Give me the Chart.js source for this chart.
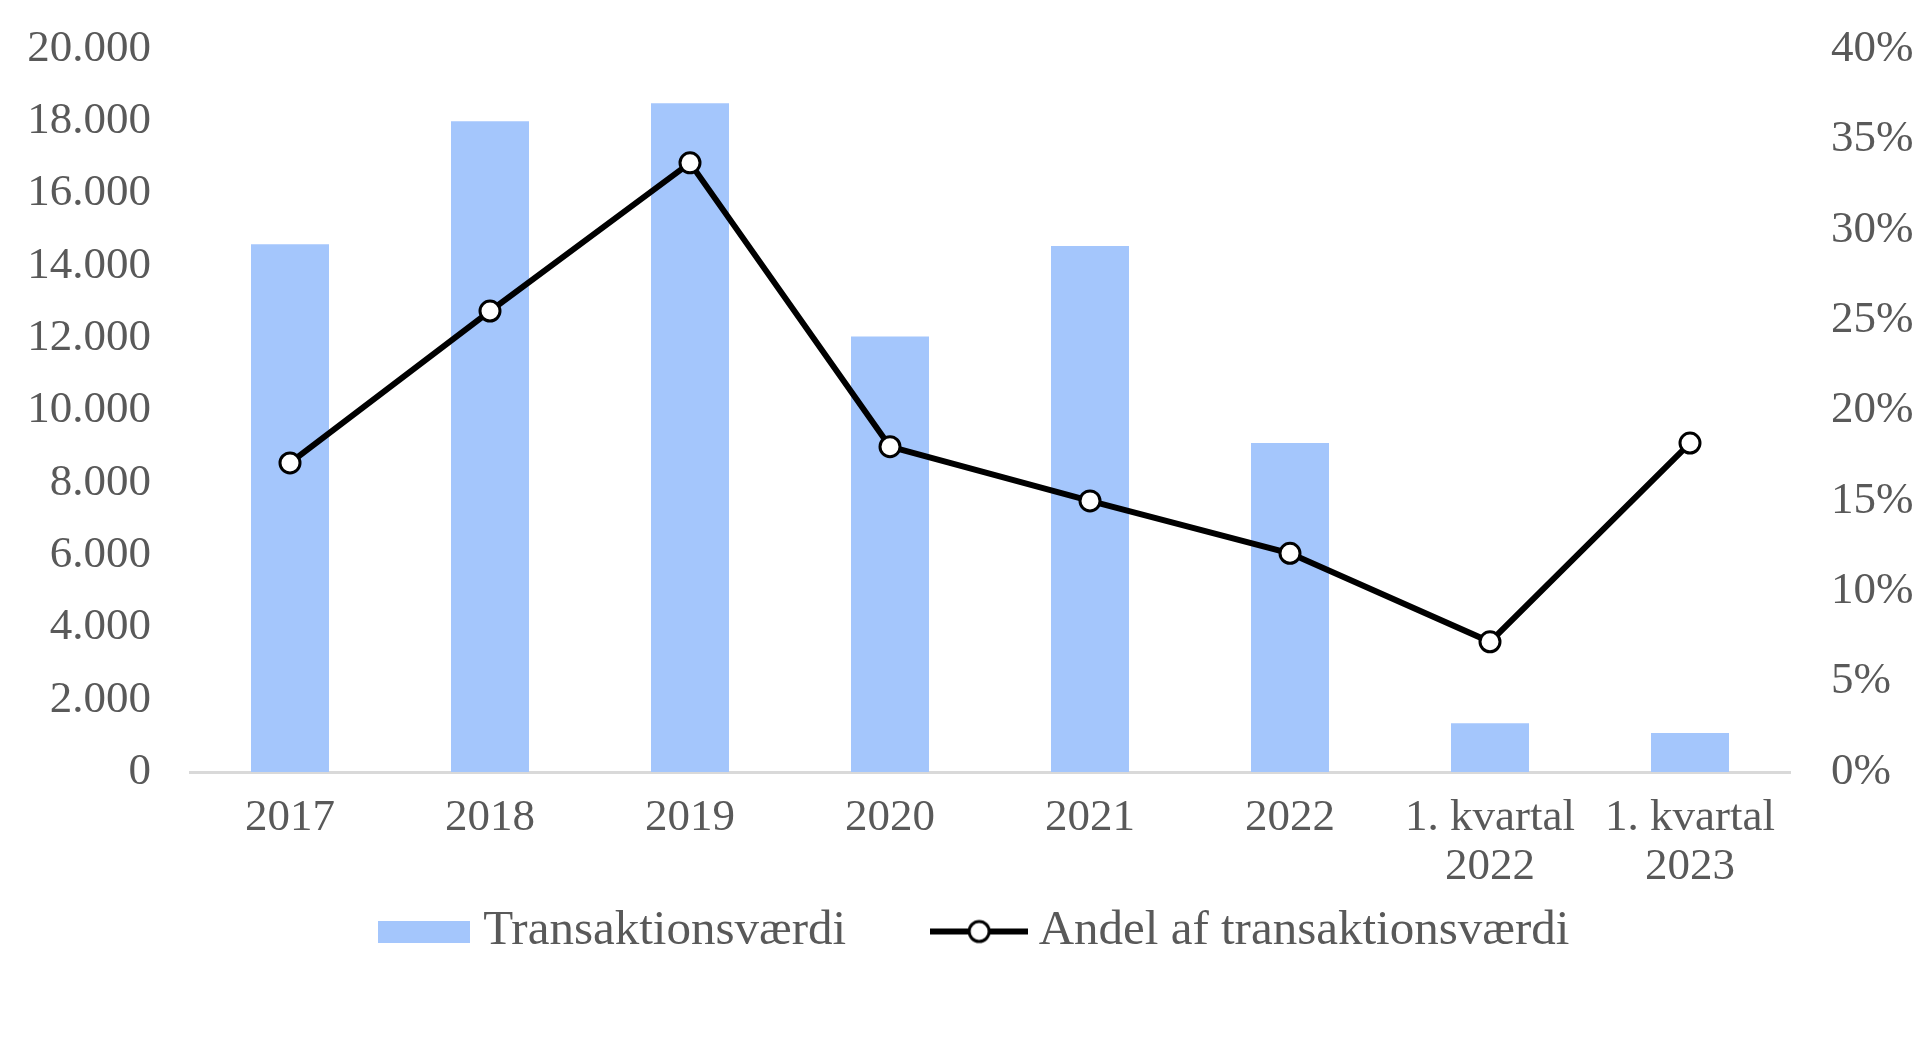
<!DOCTYPE html>
<html>
<head>
<meta charset="utf-8">
<title>Transaktionsværdi</title>
<script src="https://cdn.jsdelivr.net/npm/chart.js@4.4.1/dist/chart.umd.min.js"></script>
<style>
  html, body { margin: 0; padding: 0; background: #fff; }
  #wrap { width: 1920px; height: 1041px; }
</style>
</head>
<body>
<div id="wrap"><canvas id="chart-1"></canvas></div>
<script>
const categories = ['2017', '2018', '2019', '2020', '2021', '2022', ['1. kvartal', '2022'], ['1. kvartal', '2023']];
const transaktionsvaerdi = [14600, 18000, 18500, 12050, 14550, 9100, 1350, 1080];
const andel = [17.1, 25.5, 33.7, 18.0, 15.0, 12.1, 7.2, 18.2];
const leftTicks = [0, 20000, 2000];   // min, max, step
const rightTicks = [0, 40, 5];

const textColor = '#595959';
const barColor = '#a4c6fc';
const font = 'Liberation Serif';

function formatThousands(v) {
  return String(v).replace(/\B(?=(\d{3})+(?!\d))/g, '.');
}

// legend symbols
function makeBarIcon() {
  const c = document.createElement('canvas');
  c.width = 92; c.height = 22;
  const g = c.getContext('2d');
  g.fillStyle = barColor;
  g.fillRect(0, 0, 92, 22);
  return c;
}
function makeLineIcon() {
  const c = document.createElement('canvas');
  c.width = 98; c.height = 28;
  const g = c.getContext('2d');
  g.strokeStyle = '#000';
  g.lineWidth = 6;
  g.beginPath();
  g.moveTo(0, 14); g.lineTo(98, 14);
  g.stroke();
  g.beginPath();
  g.arc(49, 14, 10, 0, Math.PI * 2);
  g.fillStyle = '#fff';
  g.fill();
  g.lineWidth = 3;
  g.stroke();
  return c;
}
const icons = [makeBarIcon(), makeLineIcon()];

// labels may run outside their axis box, so don't clip them
function noClip(scale) {
  scale._computeLabelArea = function() { return undefined; };
}

// y axes: keep the label padding from pushing the plot area down
function fitYAxis(scale, width) {
  scale.width = width;
  scale.paddingTop = 0;
  scale.paddingBottom = 0;
  noClip(scale);
}

const ctx = document.getElementById('chart-1').getContext('2d');
const chart = new Chart(ctx, {
  type: 'bar',
  data: {
    labels: categories,
    datasets: [{
      label: 'Transaktionsværdi',
      data: transaktionsvaerdi,
      backgroundColor: barColor,
      borderWidth: 0,
      barPercentage: 0.39,
      categoryPercentage: 1,
      yAxisID: 'y',
      order: 1
    }, {
      type: 'line',
      label: 'Andel af transaktionsværdi',
      data: andel,
      borderColor: '#000',
      borderWidth: 6,
      pointRadius: 10,
      pointBorderWidth: 3,
      pointBackgroundColor: '#fff',
      pointBorderColor: '#000',
      tension: 0,
      yAxisID: 'y1',
      order: 0
    }]
  },
  options: {
    responsive: true,
    maintainAspectRatio: false,
    animation: false,
    layout: { padding: { top: 49, left: 38, right: 0, bottom: 75 } },
    plugins: {
      tooltip: { enabled: false },
      legend: {
        position: 'bottom',
        labels: {
          usePointStyle: true,
          pointStyleWidth: 70,
          padding: 98,
          color: textColor,
          font: { family: font, size: 49 },
          sort: (a, b) => a.datasetIndex - b.datasetIndex,
          generateLabels: function(chart) {
            return Chart.defaults.plugins.legend.labels.generateLabels(chart).map(l => {
              l.pointStyle = icons[l.datasetIndex];
              return l;
            });
          }
        }
      }
    },
    scales: {
      x: {
        grid: { display: false, drawTicks: false },
        border: { display: true, color: '#d9d9d9', width: 3 },
        ticks: {
          color: textColor,
          font: { family: font, size: 45, lineHeight: 1.1 },
          padding: 21,
          maxRotation: 0,
          autoSkip: false
        },
        afterFit: function(scale) {
          scale.height = 37;
          noClip(scale);
        }
      },
      y: {
        position: 'left',
        min: leftTicks[0],
        max: leftTicks[1],
        grid: { display: false, drawTicks: false },
        border: { display: false },
        ticks: {
          stepSize: leftTicks[2],
          color: textColor,
          font: { family: font, size: 45 },
          padding: 39,
          callback: v => formatThousands(v)
        },
        afterFit: scale => fitYAxis(scale, 152)
      },
      y1: {
        position: 'right',
        min: rightTicks[0],
        max: rightTicks[1],
        grid: { display: false, drawTicks: false },
        border: { display: false },
        ticks: {
          stepSize: rightTicks[2],
          color: textColor,
          font: { family: font, size: 45 },
          padding: 41,
          callback: v => v + '%'
        },
        afterFit: scale => fitYAxis(scale, 130)
      }
    }
  }
});
</script>
</body>
</html>
